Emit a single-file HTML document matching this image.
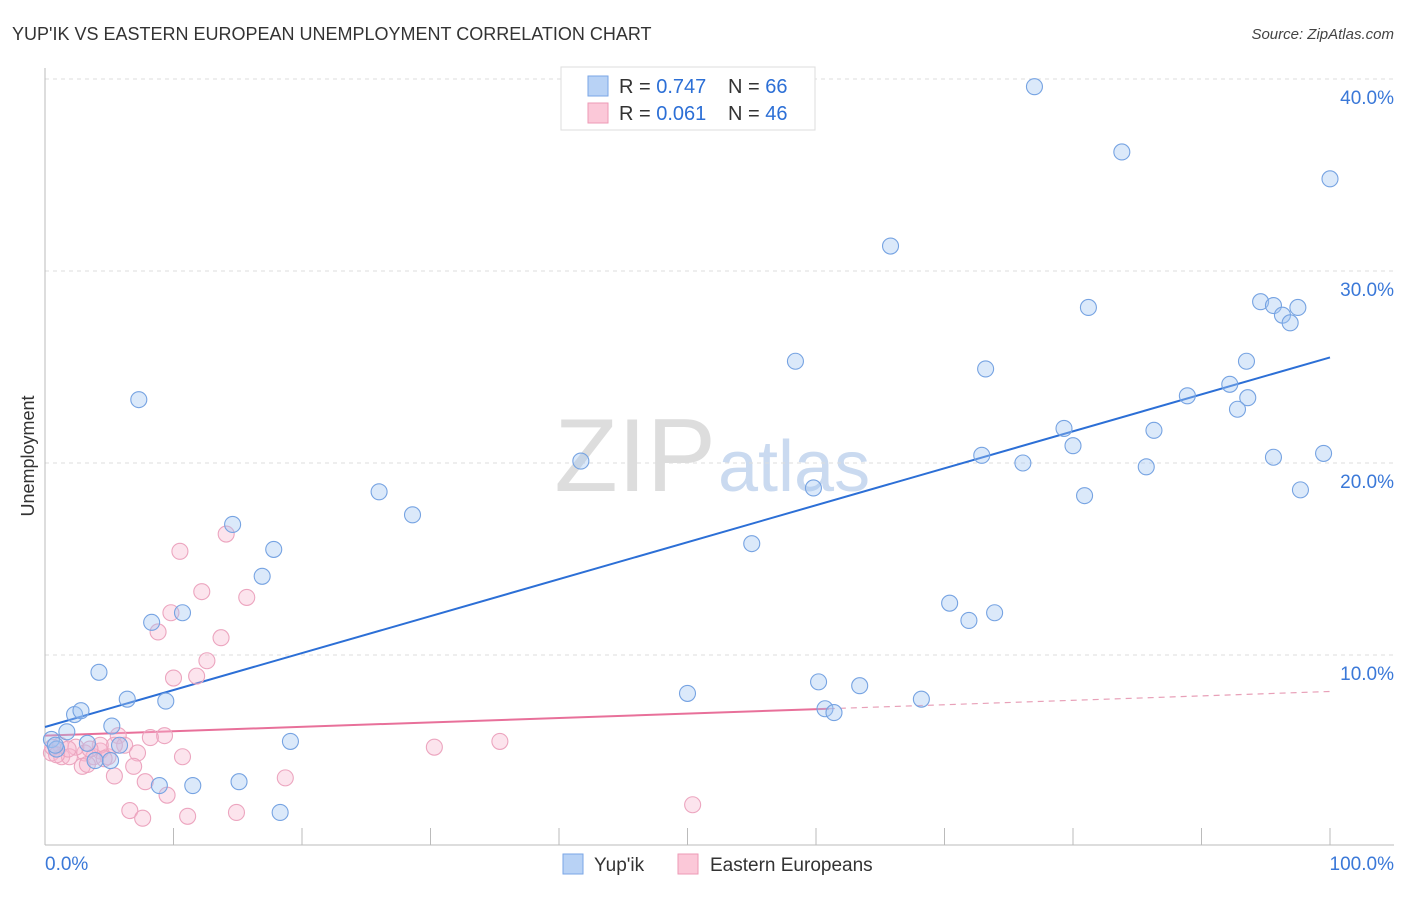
<!DOCTYPE html>
<html><head><meta charset="utf-8"><style>
body{margin:0;background:#fff;font-family:"Liberation Sans",sans-serif;}
svg text{font-family:"Liberation Sans",sans-serif;}
</style></head><body>
<svg id="chart" width="1406" height="892">
<text x="12" y="40" font-size="18" fill="#333">YUP'IK VS EASTERN EUROPEAN UNEMPLOYMENT CORRELATION CHART</text>
<text x="1394" y="39" font-size="15" fill="#444" text-anchor="end" font-style="italic">Source: ZipAtlas.com</text>
<text x="34" y="456" font-size="18" fill="#333" text-anchor="middle" transform="rotate(-90 34 456)">Unemployment</text>
<text x="716" y="491" font-size="104" fill="#ddd" text-anchor="end" font-family="Liberation Serif">ZIP</text>
<text x="718" y="491" font-size="72" fill="#cadaf0">atlas</text>
<g id="grid"></g><g id="axes"></g><g id="lines"></g><g id="pts"></g>
<g>
<rect x="561" y="67" width="254" height="63" fill="#fff" stroke="#ddd"/>
<rect x="588" y="76" width="20" height="20" fill="#b8d2f5" stroke="#7aa6e6"/>
<rect x="588" y="103" width="20" height="20" fill="#fbc8d8" stroke="#ee9ab6"/>
<text x="619" y="93" font-size="20" fill="#333">R = <tspan fill="#2c6fd6">0.747</tspan></text>
<text x="728" y="93" font-size="20" fill="#333">N = <tspan fill="#2c6fd6">66</tspan></text>
<text x="619" y="120" font-size="20" fill="#333">R = <tspan fill="#2c6fd6">0.061</tspan></text>
<text x="728" y="120" font-size="20" fill="#333">N = <tspan fill="#2c6fd6">46</tspan></text>
</g>
<g>
<rect x="563" y="854" width="20" height="20" fill="#b8d2f5" stroke="#7aa6e6"/>
<text x="594" y="871" font-size="19" fill="#333">Yup'ik</text>
<rect x="678" y="854" width="20" height="20" fill="#fbc8d8" stroke="#ee9ab6"/>
<text x="710" y="871" font-size="19" fill="#333">Eastern Europeans</text>
</g>
</svg>
<script>
const blueX=[77.0,83.8,100,65.8,81.2,94.6,95.6,96.3,96.9,97.5,58.4,73.2,93.5,88.9,92.2,93.6,92.8,7.3,79.3,86.3,80.0,41.7,72.9,76.1,85.7,95.6,99.5,26.0,59.8,80.9,97.7,28.6,14.6,17.8,55.0,16.9,70.4,73.9,71.9,8.3,10.7,4.2,50.0,60.2,63.4,68.2,6.4,9.4,2.3,2.8,60.7,61.4,5.2,1.7,0.5,3.3,5.8,19.1,0.9,3.9,5.1,8.9,11.5,15.1,18.3,0.8];
const blueY=[39.6,36.2,34.8,31.3,28.1,28.4,28.2,27.7,27.3,28.1,25.3,24.9,25.3,23.5,24.1,23.4,22.8,23.3,21.8,21.7,20.9,20.1,20.4,20.0,19.8,20.3,20.5,18.5,18.7,18.3,18.6,17.3,16.8,15.5,15.8,14.1,12.7,12.2,11.8,11.7,12.2,9.1,8.0,8.6,8.4,7.7,7.7,7.6,6.9,7.1,7.2,7.0,6.3,6.0,5.6,5.4,5.3,5.5,5.1,4.5,4.5,3.2,3.2,3.4,1.8,5.3];
const pinkX=[14.1,10.5,12.2,15.7,9.8,8.8,13.7,12.6,11.8,10.0,9.3,8.2,5.7,6.2,7.2,4.3,3.1,2.4,1.2,0.5,1.3,1.9,3.8,4.9,10.7,6.9,2.9,3.3,5.4,7.8,9.5,6.6,7.6,11.1,14.9,18.7,30.3,35.4,50.4,5.4,4.3,0.6,0.9,1.8,3.5,4.6];
const pinkY=[16.3,15.4,13.3,13.0,12.2,11.2,10.9,9.7,8.9,8.8,5.8,5.7,5.8,5.3,4.9,5.0,4.9,5.2,5.3,4.9,4.7,4.7,4.7,4.7,4.7,4.2,4.2,4.3,3.7,3.4,2.7,1.9,1.5,1.6,1.8,3.6,5.2,5.5,2.2,5.3,5.3,5.2,4.8,5.1,5.1,4.6];
const yTicks=[10,20,30,40];
const blueTrend=[6.25,25.5];
const pinkTrend=[5.8,8.1];
const pinkSolidEnd=61;
const NS='http://www.w3.org/2000/svg';
const sx=v=>45+v*12.85, sy=v=>847-v*19.2;
function mk(t,a,p){const e=document.createElementNS(NS,t);for(const k in a)e.setAttribute(k,a[k]);p.appendChild(e);return e;}
const grid=document.getElementById('grid'),axes=document.getElementById('axes'),lines=document.getElementById('lines'),pts=document.getElementById('pts');
yTicks.forEach(t=>{
 const l=mk('line',{x1:45,x2:1394,y1:sy(t),y2:sy(t),stroke:'#ddd','stroke-dasharray':'4,4'},grid);
 
 
 const tx=mk('text',{x:1394,y:sy(t)+25,'font-size':19,fill:'#3a78d8','text-anchor':'end'},axes);
 tx.textContent=t.toFixed(1)+'%';
 
 
});
mk('line',{x1:45,x2:1394,y1:845,y2:845,stroke:'#bbb'},axes);
mk('line',{x1:45,x2:45,y1:68,y2:845,stroke:'#bbb'},axes);
for(let i=0;i<=10;i++){const t=mk('line',{x1:sx(i*10),x2:sx(i*10),y1:828,y2:845,stroke:'#bbb'},axes);}
const x0=mk('text',{x:45,y:870,'font-size':19,fill:'#3a78d8'},axes);x0.textContent='0.0%';


const x1=mk('text',{x:1394,y:870,'font-size':19,fill:'#3a78d8','text-anchor':'end'},axes);x1.textContent='100.0%';


function draw(xs,ys,fill,stroke,name){xs.forEach((x,i)=>{const c=mk('circle',{cx:sx(x),cy:sy(ys[i]),r:8,fill:fill,stroke:stroke,'stroke-width':1.1},pts);

});}
draw(pinkX,pinkY,'rgba(248,185,208,0.38)','#eca5bf','eastern-european-point');
draw(blueX,blueY,'rgba(160,196,242,0.38)','#76a3e2','yupik-point');
const bl=mk('line',{x1:sx(0),y1:sy(blueTrend[0]),x2:sx(100),y2:sy(blueTrend[1]),stroke:'#2c6fd6','stroke-width':2},lines);


const pm=pinkTrend[0]+(pinkTrend[1]-pinkTrend[0])*pinkSolidEnd/100;
const pl=mk('line',{x1:sx(0),y1:sy(pinkTrend[0]),x2:sx(pinkSolidEnd),y2:sy(pm),stroke:'#e8709a','stroke-width':2},lines);


const pd=mk('line',{x1:sx(pinkSolidEnd),y1:sy(pm),x2:sx(100),y2:sy(pinkTrend[1]),stroke:'#e8a0b8','stroke-width':1.2,'stroke-dasharray':'6,5'},lines);


</script>
</body></html>
